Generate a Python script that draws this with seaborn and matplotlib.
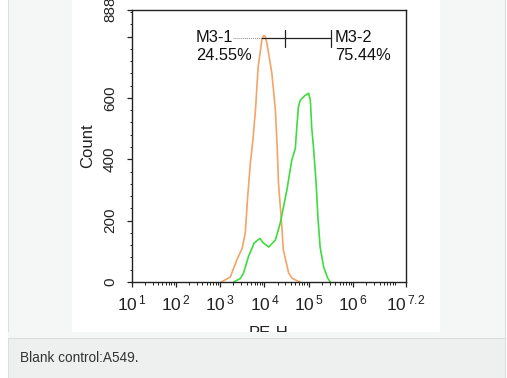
import numpy as np
import pandas as pd
import matplotlib
matplotlib.use("Agg")
import matplotlib.pyplot as plt
from matplotlib.patches import Rectangle
from matplotlib.ticker import FixedLocator, FixedFormatter, NullFormatter
import seaborn as sns

# ---------------- data ----------------
orange_log_pe = [3.03, 3.23, 3.38, 3.50, 3.57, 3.62, 3.68, 3.74, 3.80, 3.86, 3.95,
                 3.99, 4.02, 4.06, 4.17, 4.25, 4.29, 4.32, 4.38, 4.43, 4.55, 4.63,
                 4.74, 4.81]
orange_count = [0, 16, 72, 110, 160, 270, 380, 460, 560, 700, 795,
                803, 800, 777, 680, 560, 440, 322, 212, 104, 29, 12,
                4, 0]

green_log_pe = [3.31, 3.46, 3.53, 3.64, 3.77, 3.90, 3.98, 4.10, 4.25, 4.36, 4.51,
                4.62, 4.70, 4.74, 4.77, 4.81, 4.92, 5.00, 5.04, 5.07, 5.11, 5.17,
                5.21, 5.26, 5.34, 5.43, 5.49]
green_count = [0, 12, 29, 82, 127, 142, 127, 114, 137, 192, 300,
               397, 435, 517, 570, 592, 608, 615, 592, 504, 440, 322,
               212, 114, 49, 13, 0]

x_tick_exponents = [1, 2, 3, 4, 5, 6, 7.2]
x_tick_labels = [r"$\mathregular{10^{\,1}}$", r"$\mathregular{10^{\,2}}$",
                 r"$\mathregular{10^{\,3}}$", r"$\mathregular{10^{\,4}}$",
                 r"$\mathregular{10^{\,5}}$", r"$\mathregular{10^{\,6}}$",
                 r"$\mathregular{10^{\,7.2}}$"]
y_ticks = [0, 200, 400, 600, 800, 888]
y_tick_labels = ["0", "200", "400", "600", "", "888"]

gate_log_dotted = [3.30, 3.954]
gate_log_solid = [3.954, 5.503]
gate_log_marks = [4.472, 5.503]
gate_level = 795
gate_names = ["M3-1", "M3-2"]
gate_percents = ["24.55%", "75.44%"]

caption = "Blank control:A549."

# ---------------- style ----------------
sns.set_theme(style="ticks")
plt.rcParams["font.family"] = ["Liberation Sans", "DejaVu Sans"]
plt.rcParams["mathtext.fontset"] = "custom"
plt.rcParams["mathtext.rm"] = "Liberation Sans"
plt.rcParams["mathtext.it"] = "Liberation Sans:italic"
plt.rcParams["mathtext.bf"] = "Liberation Sans:bold"

W, H = 507, 378
fig = plt.figure(figsize=(W / 100, H / 100), dpi=100)
fig.patch.set_facecolor("white")


def fbox(x0, y0, x1, y1):
    """pixel box (top-left origin) -> figure fraction (left, bottom, w, h)"""
    return (x0 / W, 1 - y1 / H, (x1 - x0) / W, (y1 - y0) / H)


def frect(x0, y0, x1, y1, color, z, ec="none", lw=0):
    l, b, w, h = fbox(x0, y0, x1, y1)
    r = Rectangle((l, b), w, h, transform=fig.transFigure, facecolor=color,
                  edgecolor=ec, linewidth=lw, zorder=z)
    fig.add_artist(r)
    return r


# page panel background
frect(8, -5, 505, 338, "#f5f6f6", -3, ec="#dcdedd", lw=0.8)
frect(72, -5, 440, 331.5, "white", -2)

# ---------------- chart ----------------
ax_l, ax_r, ax_t, ax_b = 131.5, 406, 9.5, 282
ax = fig.add_axes(fbox(ax_l, ax_t, ax_r, ax_b))
ax.set_facecolor("white")

df_o = pd.DataFrame({"PE-H": np.power(10.0, orange_log_pe), "Count": orange_count})
df_g = pd.DataFrame({"PE-H": np.power(10.0, green_log_pe), "Count": green_count})
sns.lineplot(data=df_o, x="PE-H", y="Count", ax=ax, color="#f3a466",
             linewidth=1.2, sort=False, estimator=None)
sns.lineplot(data=df_g, x="PE-H", y="Count", ax=ax, color="#3fdc3f",
             linewidth=1.2, sort=False, estimator=None)

ax.set_xscale("log")
ax.set_xlim(10 ** 1, 10 ** 7.2)
ax.set_ylim(0, 888)

# x ticks
ax.xaxis.set_major_locator(FixedLocator([10 ** e for e in x_tick_exponents]))
ax.xaxis.set_major_formatter(FixedFormatter(x_tick_labels))
minor_x = [m * 10 ** d for d in range(1, 7) for m in range(2, 10)
           if m * 10 ** d < 10 ** 7.2]
ax.xaxis.set_minor_locator(FixedLocator(minor_x))
ax.xaxis.set_minor_formatter(NullFormatter())

# y ticks
ax.yaxis.set_major_locator(FixedLocator(y_ticks))
ax.yaxis.set_major_formatter(FixedFormatter(y_tick_labels))
ax.yaxis.set_minor_locator(FixedLocator([v for v in range(40, 888, 40) if v % 200 != 0]))
ax.yaxis.set_minor_formatter(NullFormatter())

ax.tick_params(axis="both", which="major", direction="out", length=3.5,
               width=0.9, color="#222222", labelcolor="#222222")
ax.tick_params(axis="both", which="minor", direction="out", length=1.8,
               width=0.7, color="#222222")
ax.tick_params(axis="x", which="major", labelsize=12.5, pad=5)
ax.tick_params(axis="y", which="major", labelsize=11, pad=7, labelrotation=90)
for lab in ax.get_yticklabels():
    lab.set_va("center")
    lab.set_ha("right")

for s in ax.spines.values():
    s.set_color("#222222")
    s.set_linewidth(1.0)
    s.set_visible(True)

ax.set_xlabel("PE-H", fontsize=12, color="#222222")
ax.xaxis.set_label_coords(0.5, -(325.5 - ax_b) / (ax_b - ax_t))
ax.xaxis.label.set_va("top")
ax.set_ylabel("Count", fontsize=12, color="#222222")
ax.yaxis.set_label_coords(-(ax_l - 95) / (ax_r - ax_l), 0.5)

# gates
ax.plot(np.power(10.0, gate_log_dotted), [gate_level, gate_level],
        color="#888888", linestyle=(0, (1, 1)), linewidth=0.7, zorder=4)
ax.plot(np.power(10.0, gate_log_solid), [gate_level, gate_level],
        color="#222222", linewidth=0.9, zorder=4)
for g in gate_log_marks:
    ax.plot([10 ** g, 10 ** g], [gate_level - 30, gate_level + 25],
            color="#222222", linewidth=0.9, zorder=4)

# gate annotations (axes fraction positions)
def afx(px):
    return (px - ax_l) / (ax_r - ax_l)


def afy(py):
    return (ax_b - py) / (ax_b - ax_t)


text_x = [196, 335]
for i in range(2):
    ax.text(afx(text_x[i]), afy(42.5), gate_names[i], transform=ax.transAxes,
            fontsize=11.8, color="#111111", va="baseline", ha="left", zorder=5)
    ax.text(afx(text_x[i]), afy(60.5), gate_percents[i], transform=ax.transAxes,
            fontsize=11.8, color="#111111", va="baseline", ha="left", zorder=5)

# cover below the white image (clips the x label) and caption area
frect(8.4, 331.5, 504.6, 338, "#f5f6f6", 5)
frect(8, 338, 505, 380, "#eeefef", 5, ec="#dcdedd", lw=0.8)
fig.text(20 / W, 1 - 362.5 / H, caption, fontsize=9.8, color="#333333",
         ha="left", va="baseline", zorder=6)

fig.savefig("out.png", dpi=100, facecolor=fig.get_facecolor())
